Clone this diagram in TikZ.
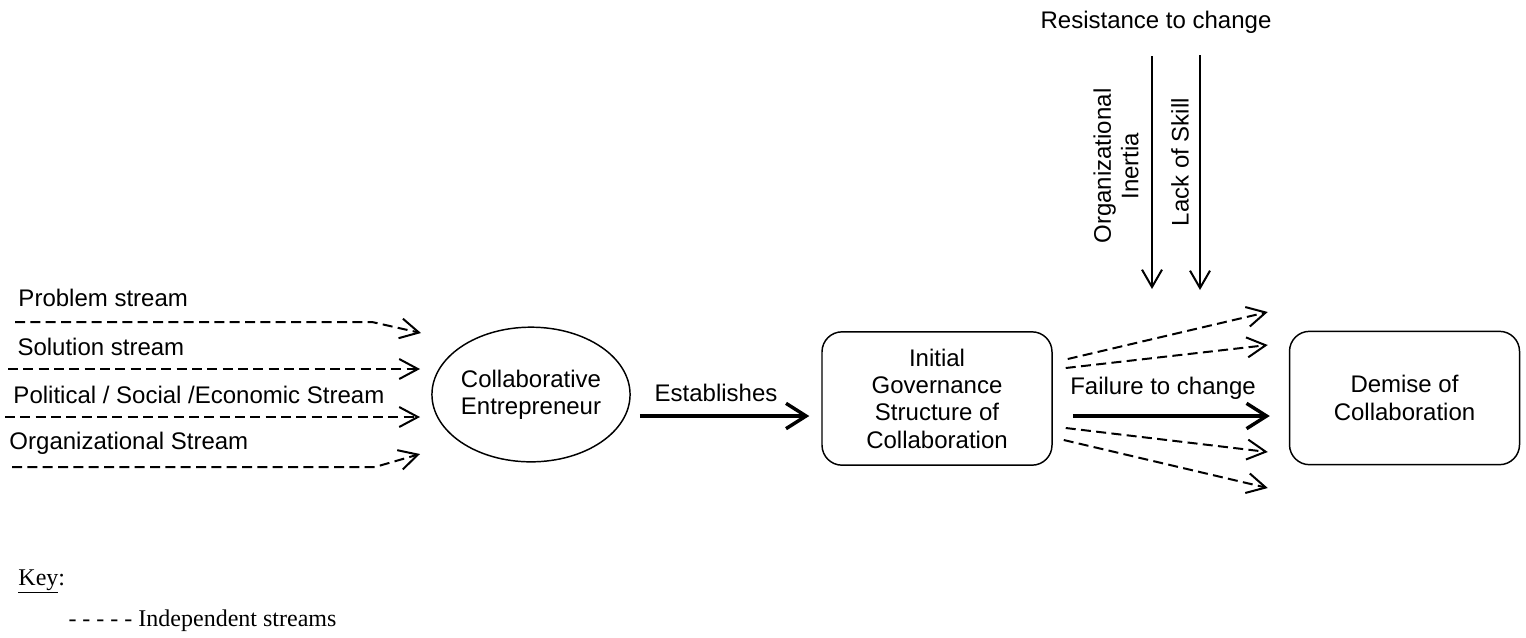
\documentclass[tikz,border=0pt]{standalone}
\usepackage{fontspec}
\setmainfont{Liberation Sans}
\newfontfamily\keyfont{Liberation Serif}
\usetikzlibrary{arrows.meta,shapes.geometric,calc}

\tikzset{every picture/.style={line width=0.75pt}}
\tikzset{
	lbl/.style={font=\fontsize{18}{20.5}\selectfont, inner sep=0pt, align=center},
	keytext/.style={font=\keyfont\fontsize{18}{21}\selectfont, inner sep=0pt, anchor=base west},
	stream/.style={line width=1.5pt, dash pattern=on 7.5pt off 4pt, -{Straight Barb[length=14pt,width=15pt]}},
	bigarrow/.style={line width=2.6pt, -{Straight Barb[length=15pt,width=19pt]}},
	downarrow/.style={line width=1.5pt, -{Straight Barb[length=13pt,width=15pt]}},
	roundbox/.style={draw, line width=1.1pt, rounded corners=15pt, minimum width=172.5pt, minimum height=100pt, align=center, font=\fontsize{18}{20.5}\selectfont}
}

\begin{document}
\begin{tikzpicture}[x=0.75pt,y=0.75pt,yscale=-1,xscale=1]
	\useasboundingbox (0,0) rectangle (1526,637);

	%Shape: Ellipse
	\node (ent) [draw, ellipse, line width=1.1pt, minimum width=144pt, minimum height=101pt, inner sep=0pt, lbl] at (531,394.5) {Collaborative\\Entrepreneur};
	%Shape: Rounded Rect
	\node (igs) [roundbox] at (937,398.5) {Initial\\Governance\\Structure of\\Collaboration};
	%Shape: Rounded Rect
	\node (dem) [roundbox] at (1404.5,398) {Demise of\\Collaboration};

	%Stream ends
	\coordinate (ps0) at (15,322);   \coordinate (ps1) at (372,322);  \coordinate (ps2) at (421,333);
	\coordinate (ss0) at (8,369);    \coordinate (ss1) at (420,369);
	\coordinate (pe0) at (5,417);    \coordinate (pe1) at (420,417);
	\coordinate (os0) at (12,467);   \coordinate (os1) at (375,467);  \coordinate (os2) at (420,454);

	%Straight Lines
	\draw [stream] (ps0) -- (ps1) -- (ps2);
	\draw [stream] (ss0) -- (ss1);
	\draw [stream] (pe0) -- (pe1);
	\draw [stream] (os0) -- (os1) -- (os2);

	% Text Node
	\node (ps) [lbl, anchor=west] at (18,298) {Problem stream};
	% Text Node
	\node (ss) [lbl, anchor=west] at (17,347) {Solution stream};
	% Text Node
	\node (pe) [lbl, anchor=west] at (13,395) {Political / Social /Economic Stream};
	% Text Node
	\node (os) [lbl, anchor=west] at (9,443) {Organizational Stream};

	%Straight Lines
	\draw [bigarrow] ($(ent.east)+(9,21.5)$) -- ($(igs.west)+(-12,17.5)$);
	% Text Node
	\node (est) [lbl] at (716,393) {Establishes};

	%Straight Lines
	\draw [bigarrow] ($(igs.east)+(20,17.5)$) -- ($(dem.west)+(-19,18)$);
	% Text Node
	\node (ftc) [lbl] at (1163,388) {Failure to change};

	%Straight Lines
	\draw [stream] ($(igs.east)+(15,-39.5)$) -- ($(dem.west)+(-21,-86)$);
	\draw [stream] ($(igs.east)+(13,-30.5)$) -- ($(dem.west)+(-21,-53)$);
	\draw [stream] ($(igs.east)+(13,29.5)$) -- ($(dem.west)+(-21,54)$);
	\draw [stream] ($(igs.east)+(11,41.5)$) -- ($(dem.west)+(-21,90)$);

	% Text Node
	\node (res) [lbl] at (1156,22) {Resistance to change};
	\coordinate (oi0) at (1152,56);  \coordinate (oi1) at (1152,289);
	\coordinate (ls0) at (1200,55);  \coordinate (ls1) at (1200,290);
	%Straight Lines
	\draw [downarrow] (oi0) -- (oi1);
	\draw [downarrow] (ls0) -- (ls1);
	% Text Node
	\node (oi) [lbl, rotate=90] at (1116,166) {Organizational\\Inertia};
	% Text Node
	\node (ls) [lbl, rotate=90] at (1180,162) {Lack of Skill};

	% Key
	\node (key) [keytext] at (18,585) {\underline{Key}:};
	\node (ind) [keytext] at (68,626) {- - - - - Independent streams};

\end{tikzpicture}
\end{document}
